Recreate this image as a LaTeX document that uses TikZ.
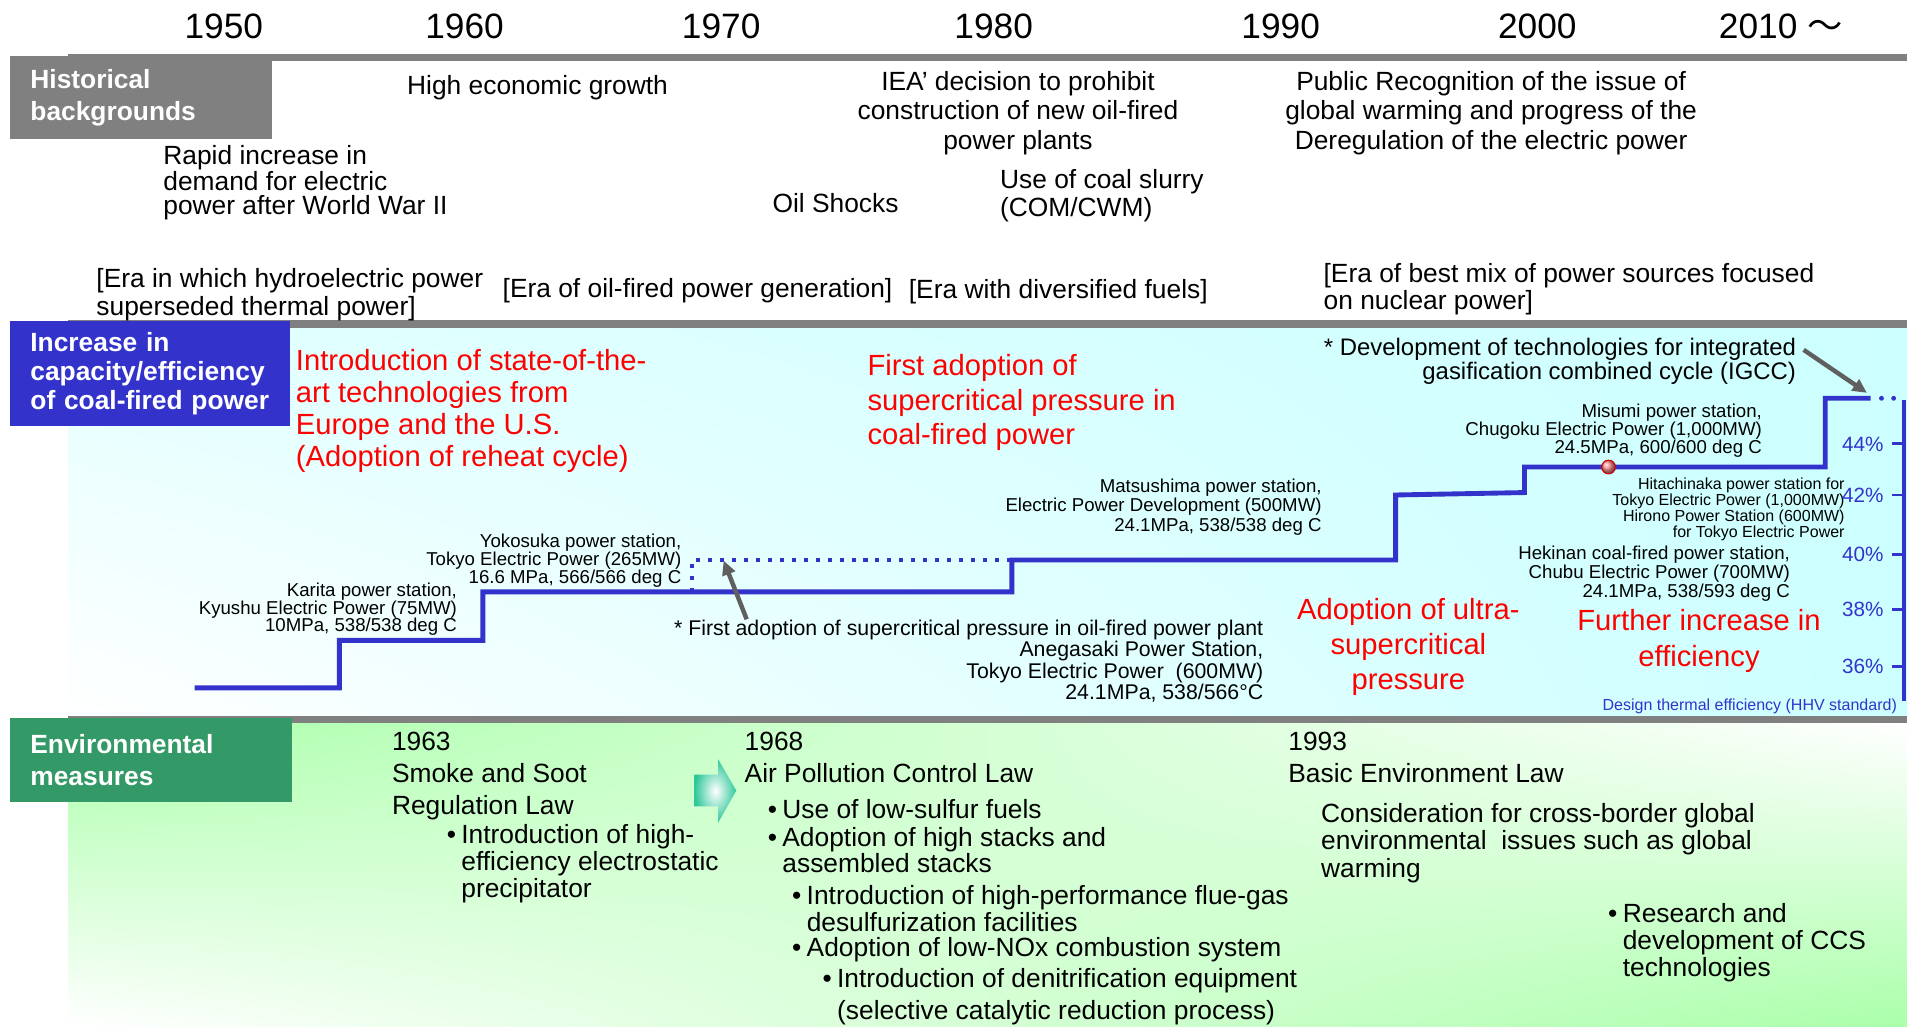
\documentclass[tikz,border=0pt]{standalone}
\usepackage{fontspec}
\setmainfont{Liberation Sans}
\newfontfamily\cjk{Noto Sans CJK JP}
\usepackage{tikz}
\usetikzlibrary{arrows.meta, shadings}
\usepackage{xcolor}

\definecolor{bargray}{HTML}{808080}
\definecolor{capblue}{HTML}{3333CC}
\definecolor{envgreen}{HTML}{339966}
\definecolor{bgcyan}{HTML}{CCFFFF}
\definecolor{bggreen}{HTML}{AAFFAA}
\definecolor{ptrgray}{HTML}{5F5F5F}
\definecolor{arrowgreen}{HTML}{2EC79A}

\newcommand{\bul}{\makebox[7.2pt][l]{\textbullet}}
\newcommand{\bsp}{\hspace*{7.2pt}}

\begin{document}
\begin{tikzpicture}[ 
x=0.6pt, 
y=-0.6pt,
yr/.style={inner sep=0, 
font=\fontsize{17.4}{20}\selectfont}, 
hdrbox/.style={inner xsep=10pt, 
inner ysep=0, 
anchor=north west, 
text=white, 
align=left, 
font=\bfseries\fontsize{13}{#1}\selectfont}, 
hdrbox/.default=15.6, 
txt/.style={inner sep=0, 
align=left, 
font=\fontsize{13}{#1}\selectfont}, 
txt/.default=14.4, 
redtxt/.style={inner sep=0, 
text=red, 
font=\fontsize{14.4}{#1}\selectfont}, 
station/.style={inner sep=0, 
align=right, 
anchor=east, 
font=\fontsize{9.2}{#1}\selectfont}, 
station/.default=8.8, 
pct/.style={inner sep=0, 
anchor=east, 
text=capblue, 
font=\fontsize{10.2}{12}\selectfont}, 
stair/.style={capblue, 
line width=2.4pt}, 
grayarrow/.style={-{Triangle[length=7pt, width=6.5pt]}, 
ptrgray, 
line width=2.2pt} 
]

\useasboundingbox (0,0) rectangle (1568,844);

\shade[upper left=bgcyan!55!white, upper right=bgcyan, lower left=white, lower right=bgcyan] (56,270) rectangle (1568,589);
\shade[upper left=bggreen, upper right=white, lower left=white, lower right=bggreen] (56,594.5) rectangle (1568,844);
\fill[bargray] (56,44.5) rectangle (1568,50.2);
\fill[bargray] (56,263.5) rectangle (1568,270);
\fill[bargray] (56,589) rectangle (1568,594.5);

\node[hdrbox, fill=bargray, text width=109pt, minimum height=40.8pt] (histbox) at (8,46) {Historical\\backgrounds};
\node[hdrbox=14.4, fill=capblue, text width=118pt, minimum height=51.6pt] (capbox) at (8,264) {Increase in\\capacity/efficiency\\of coal-fired power};
\node[hdrbox, fill=envgreen, text width=119.2pt, minimum height=41.4pt] (envbox) at (8,590) {Environmental\\measures};

\node[yr] (y1950) at (184,22) {1950};
\node[yr] (y1960) at (382,22) {1960};
\node[yr] (y1970) at (593,22) {1970};
\node[yr] (y1980) at (817,22) {1980};
\node[yr] (y1990) at (1053,22) {1990};
\node[yr] (y2000) at (1264,22) {2000};
\node[yr, anchor=west] (y2010) at (1413,22) {2010 {\cjk ～}};

\node[txt] (growth) at (442,72) {High economic growth};
\node[txt, align=center] (iea) at (837,93) {IEA’ decision to prohibit\\construction of new oil-fired\\power plants};
\node[txt, align=center] (warming) at (1226,93) {Public Recognition of the issue of\\global warming and progress of the\\Deregulation of the electric power};
\node[txt=11.6, anchor=west] (demand) at (134,150) {Rapid increase in\\demand for electric\\power after World War II};
\node[txt] (oilshock) at (687,167) {Oil Shocks};
\node[txt=13.8, anchor=west] (slurry) at (822,161) {Use of coal slurry\\(COM/CWM)};
\node[txt=13.8, anchor=west] (erahydro) at (79,242) {[Era in which hydroelectric power\\superseded thermal power]};
\node[txt, anchor=west] (eraoil) at (413,239) {[Era of oil-fired power generation]};
\node[txt, anchor=west] (eradiv) at (747,240) {[Era with diversified fuels]};
\node[txt=13.2, anchor=west] (eramix) at (1088,238) {[Era of best mix of power sources focused\\on nuclear power]};

\node[redtxt=15.8, align=left, anchor=west] (reheat) at (243,338) {Introduction of state-of-the-\\art technologies from\\Europe and the U.S.\\(Adoption of reheat cycle)};
\node[redtxt=17.1, align=left, anchor=west] (sccoal) at (713,331) {First adoption of\\supercritical pressure in\\coal-fired power};
\node[redtxt=17.4, align=center] (usc) at (1158,532) {Adoption of ultra-\\supercritical\\pressure};
\node[redtxt=18, align=center] (further) at (1397,527) {Further increase in\\efficiency};

\node[station=8.6] (karita) at (376,501) {Karita power station,\\Kyushu Electric Power (75MW)\\10MPa, 538/538 deg C};
\node[station=8.7] (yokosuka) at (560.5,461) {Yokosuka power station,\\Tokyo Electric Power (265MW)\\16.6 MPa, 566/566 deg C};
\node[station=8.5] (matsushima) at (1087,417) {Matsushima power station,\\Electric Power Development (500MW)\\24.1MPa, 538/538 deg C};
\node[station=8.9] (misumi) at (1449,354) {Misumi power station,\\Chugoku Electric Power (1,000MW)\\24.5MPa, 600/600 deg C};
\node[station=9.4] (hekinan) at (1472,472) {Hekinan coal-fired power station,\\Chubu Electric Power (700MW)\\24.1MPa, 538/593 deg C};
\node[station, font=\fontsize{7.9}{7.9}\selectfont] (hitachinaka) at (1517,419) {Hitachinaka power station for\\Tokyo Electric Power (1,000MW)\\Hirono Power Station (600MW)\\for Tokyo Electric Power};
\node[station, font=\fontsize{10.5}{10.6}\selectfont] (anegasaki) at (1039,543.5) {* First adoption of supercritical pressure in oil-fired power plant\\Anegasaki Power Station,\\Tokyo Electric Power\ \ (600MW)\\24.1MPa, 538/566°C};
\node[station, font=\fontsize{11.8}{11.8}\selectfont] (igcc) at (1477,297) {* Development of technologies for integrated\\gasification combined cycle (IGCC)};

\draw[capblue, line width=1.8pt] (1565.5,329) -- (1565.5,576);
\foreach \yy/\pp in {365/44, 407/42, 456/40, 501/38, 548/36} {
\draw[capblue, line width=1.4pt] (1556,\yy) -- (1565.5,\yy);
\node[pct] (pct\pp) at (1549,\yy) {\pp\%};
}
\node[pct, font=\fontsize{7.9}{9}\selectfont] (hhv) at (1560,581) {Design thermal efficiency (HHV standard)};

\draw[stair] (160,565.6) -| (279,526.5) -| (397,486.7) -| (832,460.5) -| (1147.5,407) -- (1253.5,405) -- (1253.5,384) -| (1500.8,327.5) -- (1538,327.5);
\draw[stair, line width=2pt, dash pattern=on 2pt off 3.9pt] (569,486.7) |- (832,460.5);
\draw[stair, line cap=round, dash pattern=on 0pt off 6pt] (1547,327.5) -- (1566,327.5);
\shade[ball color=red!45] (1322.6,384) circle (3.4pt);
\draw[red!80!black, line width=0.5pt] (1322.6,384) circle (3.4pt);

\coordinate (scoil) at (595,461);
\draw[grayarrow] ([xshift=36pt]anegasaki.north west) -- (scoil);
\coordinate (igccend) at (1535,323);
\draw[grayarrow] ([shift={(3.6pt,-6pt)}]igcc.north east) -- (igccend);

\node[txt=15.6, anchor=west] (law63) at (322,638) {1963\\Smoke and Soot\\Regulation Law};
\node[txt=13.2, anchor=west] (esp) at (367,710) {\bul Introduction of high-\\\bsp efficiency electrostatic\\\bsp precipitator};
\shade[inner color=white, outer color=arrowgreen] (571,637) -- (590.5,637) -- (590.5,624.4) -- (605.4,650) -- (590.5,676.4) -- (590.5,663) -- (571,663) -- cycle;
\node[txt=15.6, anchor=west] (law68) at (612,623) {1968\\Air Pollution Control Law};
\node[txt, anchor=west] (lowsulfur) at (631,665) {\bul Use of low-sulfur fuels};
\node[txt=13.2, anchor=west] (stacks) at (631,699) {\bul Adoption of high stacks and\\\bsp assembled stacks};
\node[txt=13.2, anchor=west] (fgd) at (651,747) {\bul Introduction of high-performance flue-gas\\\bsp desulfurization facilities};
\node[txt, anchor=west] (lownox) at (651,781) {\bul Adoption of low-NOx combustion system};
\node[txt=16, anchor=west] (scr) at (676,819.5) {\bul Introduction of denitrification equipment\\\bsp (selective catalytic reduction process)};
\node[txt=15.6, anchor=west] (law93) at (1059,623) {1993\\Basic Environment Law};
\node[txt=13.5, anchor=west] (crossborder) at (1086,693) {Consideration for cross-border global\\environmental\ \ issues such as global\\warming};
\node[txt=13.5, anchor=west] (ccs) at (1322,775) {\bul Research and\\\bsp development of CCS\\\bsp technologies};

\end{tikzpicture}
\end{document}
